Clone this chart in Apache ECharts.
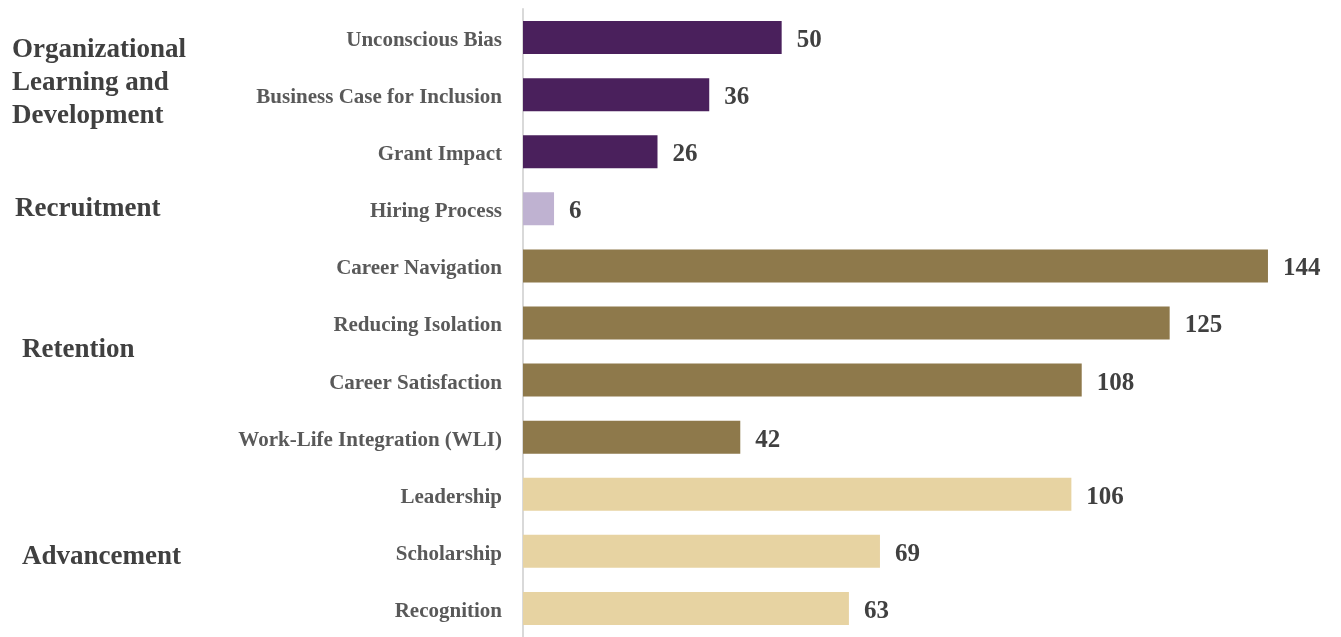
<!DOCTYPE html>
<html>
<head>
<meta charset="utf-8">
<script src="https://cdn.jsdelivr.net/npm/echarts@6/dist/echarts.min.js"></script>
<style>
  html, body { margin: 0; padding: 0; background: #ffffff; }
  #chart { width: 1341px; height: 637px; }
</style>
</head>
<body>
<div id="chart"></div>
<script>
// Program topics, top to bottom
const categories = [
  'Unconscious Bias',
  'Business Case for Inclusion',
  'Grant Impact',
  'Hiring Process',
  'Career Navigation',
  'Reducing Isolation',
  'Career Satisfaction',
  'Work-Life Integration (WLI)',
  'Leadership',
  'Scholarship',
  'Recognition'
];
const counts = [50, 36, 26, 6, 144, 125, 108, 42, 106, 69, 63];
// Which group each topic belongs to
const topicGroup = [0, 0, 0, 1, 2, 2, 2, 2, 3, 3, 3];
const groupNames = [
  'Organizational\nLearning and\nDevelopment',
  'Recruitment',
  'Retention',
  'Advancement'
];
const groupColors = ['#4a205c', '#bfb2d1', '#8e794b', '#e7d3a2'];

const FONT = '"Liberation Serif", "Times New Roman", serif';

// Where each group heading sits in the left margin
const headingPlacement = [
  { x: 12, y: 83 },
  { x: 15, y: 209 },
  { x: 22, y: 350 },
  { x: 22, y: 557 }
];

const chart = echarts.init(document.getElementById('chart'), null, { renderer: 'canvas' });

const option = {
  animation: false,
  grid: { left: 523, right: 42, top: 9, height: 631, containLabel: false },
  xAxis: {
    type: 'value', min: 0, max: 150,
    show: false, splitLine: { show: false }
  },
  yAxis: {
    type: 'category',
    data: categories,
    inverse: true,
    axisLine: { show: true, lineStyle: { color: '#d9d9d9', width: 2 } },
    axisTick: { show: false },
    axisLabel: {
      margin: 21,
      formatter: (v) => '{t|' + v + '}',
      rich: {
        t: {
          color: '#595959',
          fontFamily: FONT,
          fontWeight: 'bold',
          fontSize: 21,
          padding: [6, 0, 0, 0]
        }
      }
    }
  },
  series: [{
    type: 'bar',
    data: counts.map((v, i) => ({ value: v, itemStyle: { color: groupColors[topicGroup[i]] } })),
    barWidth: 33,
    label: {
      show: true,
      position: 'right',
      distance: 15,
      offset: [0, 3],
      color: '#404040',
      fontFamily: FONT,
      fontWeight: 'bold',
      fontSize: 25
    }
  }],
  graphic: groupNames.map((name, i) => ({
    type: 'text',
    x: headingPlacement[i].x,
    y: headingPlacement[i].y,
    style: {
      text: name,
      font: 'bold 27px ' + FONT,
      fill: '#404040',
      lineHeight: 33,
      verticalAlign: 'middle'
    }
  }))
};

chart.setOption(option);
</script>
</body>
</html>
